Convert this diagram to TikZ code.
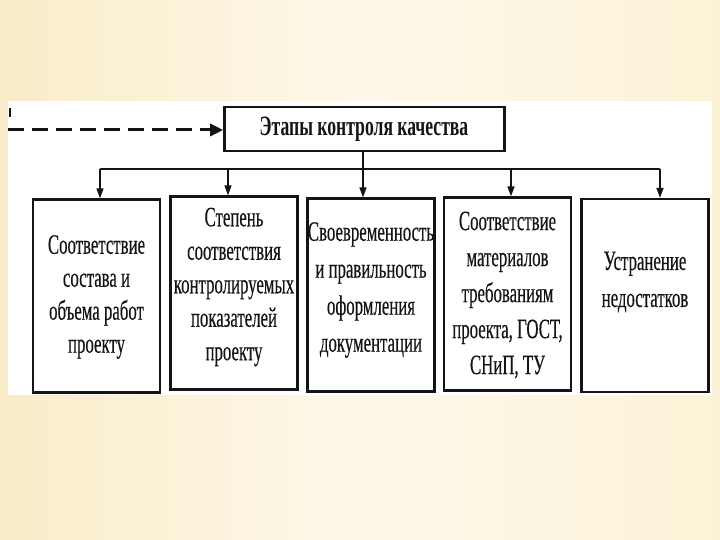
\documentclass[tikz,border=0pt]{standalone}
\usepackage{fontspec}
\newfontfamily\cond[FakeStretch=0.6,FakeBold=0.3]{Liberation Serif}
\newfontfamily\condb[FakeStretch=0.63]{Liberation Serif}
\usetikzlibrary{arrows.meta}
\definecolor{bgL}{RGB}{249,236,200}
\definecolor{bgM}{RGB}{253,248,234}
\definecolor{bgR}{RGB}{251,242,214}
\definecolor{ink}{RGB}{20,20,20}
\tikzset{
  stagebox/.style={draw=ink, line width=2.2pt, fill=white, minimum width=127pt, minimum height=193pt, inner sep=0pt},
  stagetext/.style={text=ink, align=center, font=\cond\fontsize{28}{33}\selectfont, inner sep=0pt},
  headbox/.style={draw=ink, line width=2.6pt, fill=white, minimum width=280pt, minimum height=44pt, inner sep=0pt},
  conn/.style={draw=ink, line width=1.5pt},
  downarrow/.style={conn, -{Triangle[length=10pt,width=7pt]}},
  dashedin/.style={draw=ink, line width=3pt, dash pattern=on 16pt off 8pt, -{Triangle[length=13pt,width=12pt]}}
}
\begin{document}
\begin{tikzpicture}[x=1pt,y=-1pt]
\useasboundingbox (0,0) rectangle (720,540);
\shade[left color=bgL, right color=bgR, middle color=bgM] (0,0) rectangle (720,540);
\fill[white] (8,101) rectangle (712,395);

% header
\node[headbox] (head) at (364.5,129) {};
\node[text=ink, font=\condb\bfseries\fontsize{28}{33}\selectfont, inner sep=0pt] (headt) at (364,129) {Этапы контроля качества};

% incoming dashed arrow
\coordinate (dstart) at (8,130);
\draw[dashedin] (dstart) -- (dstart -| head.west);
\coordinate (tickA) at (10,108);
\coordinate (tickB) at (10,117);
\draw[ink, line width=2pt] (tickA) -- (tickB);

% boxes
\node[stagebox] (s1) at (96.5,296) {};
\node[stagebox] (s2) at (234,293) {};
\node[stagebox] (s3) at (371,295) {};
\node[stagebox] (s4) at (507.5,294) {};
\node[stagebox] (s5) at (645,295.5) {};

\node[stagetext] (t1) at (96.5,297) {Соответствие\\состава и\\объема работ\\проекту};
\node[stagetext, font=\cond\fontsize{28}{33.5}\selectfont] (t2) at (234,287) {Степень\\соответствия\\контролируемых\\показателей\\проекту};
\node[stagetext, font=\cond\fontsize{28}{37}\selectfont] (t3) at (371,290) {Своевременность\\и правильность\\оформления\\документации};
\node[stagetext, font=\cond\fontsize{28}{36}\selectfont] (t4) at (507.5,295) {Соответствие\\материалов\\требованиям\\проекта, ГОСТ,\\СНиП, ТУ};
\node[stagetext, font=\cond\fontsize{28}{37}\selectfont] (t5) at (645,282) {Устранение\\недостатков};

% bus
\coordinate (b1) at (100,169);
\coordinate (b2) at (228,169);
\coordinate (b3) at (363,169);
\coordinate (b4) at (511,169);
\coordinate (b5) at (660,169);
\draw[conn] (b1) -- (b5);
\draw[downarrow] (b1) -- (b1 |- s1.north);
\draw[downarrow] (b2) -- (b2 |- s2.north);
\draw[downarrow] (b3 |- head.south) -- (b3 |- s3.north);
\draw[downarrow] (b4) -- (b4 |- s4.north);
\draw[downarrow] (b5) -- (b5 |- s5.north);
\end{tikzpicture}
\end{document}
